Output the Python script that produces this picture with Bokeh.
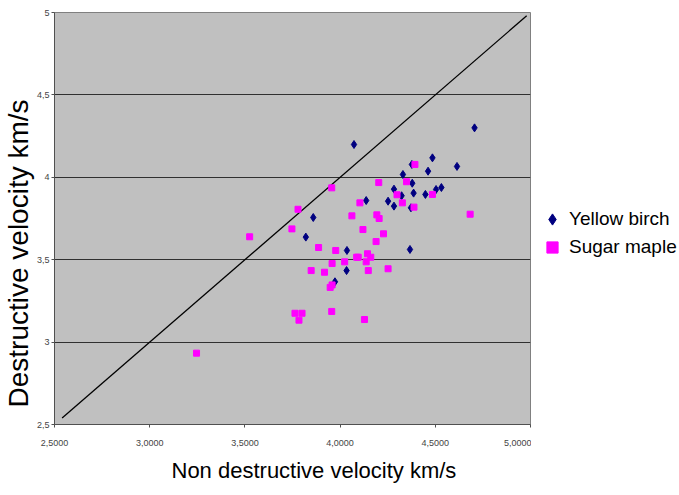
from bokeh.plotting import figure
from bokeh.layouts import row
from bokeh.models import FixedTicker, CustomJSTickFormatter, Legend, LegendItem, Title
from bokeh.embed import file_html
from bokeh.resources import INLINE

# --- data ---
birch_x = [4.073, 4.706, 4.485, 4.377, 4.462, 4.614, 4.330, 4.379, 4.283, 4.386, 4.323, 4.448,
           4.504, 4.532, 4.252, 4.283, 4.372, 4.137, 3.859, 3.820, 4.036, 4.367, 4.034, 3.973]
birch_y = [4.199, 4.300, 4.118, 4.078, 4.037, 4.066, 4.017, 3.964, 3.928, 3.904, 3.888, 3.896,
           3.926, 3.938, 3.855, 3.825, 3.815, 3.859, 3.756, 3.637, 3.556, 3.562, 3.434, 3.366]

maple_x = [4.393, 4.203, 4.349, 3.956, 4.299, 4.485, 4.327, 4.104, 4.388, 3.779, 4.062, 4.193,
           4.205, 4.683, 3.747, 4.120, 4.228, 3.525, 4.189, 3.887, 3.977, 4.087, 4.095, 4.144,
           4.161, 4.024, 3.958, 4.137, 3.848, 3.918, 4.148, 4.252, 3.948, 3.958, 3.763, 3.800,
           3.784, 3.956, 4.128, 3.246]
maple_y = [4.078, 3.968, 3.973, 3.936, 3.894, 3.896, 3.845, 3.845, 3.819, 3.806, 3.766, 3.772,
           3.750, 3.776, 3.687, 3.683, 3.657, 3.639, 3.610, 3.574, 3.556, 3.515, 3.515, 3.536,
           3.515, 3.487, 3.477, 3.487, 3.434, 3.424, 3.434, 3.445, 3.332, 3.347, 3.175, 3.175,
           3.133, 3.186, 3.137, 2.933]

diag_x = [2.54, 4.98]
diag_y = [2.54, 4.98]

x_ticks = [2.5, 3.0, 3.5, 4.0, 4.5, 5.0]
y_ticks = [2.5, 3.0, 3.5, 4.0, 4.5, 5.0]

series_names = ["Yellow birch", "Sugar maple"]
x_title = "Non destructive velocity km/s"
y_title = "Destructive velocity km/s"

FONT = "Liberation Sans"
BIRCH_COLOR = "#000080"
MAPLE_COLOR = "#FF00FF"

p = figure(width=531, height=495, output_backend="svg", toolbar_location=None,
           x_range=(2.5, 5.0), y_range=(2.5, 5.0),
           min_border_left=53, min_border_right=1, min_border_top=12, min_border_bottom=71)
p.background_fill_color = "#C0C0C0"
p.border_fill_color = "white"
p.outline_line_color = "#808080"
p.outline_line_width = 1

p.xgrid.visible = False
p.ygrid.ticker = FixedTicker(ticks=y_ticks)
p.ygrid.grid_line_color = "#303030"
p.ygrid.grid_line_width = 1

for ax, ticks in ((p.xaxis[0], x_ticks), (p.yaxis[0], y_ticks)):
    ax.ticker = FixedTicker(ticks=ticks)
    ax.minor_tick_line_color = None
    ax.major_tick_in = 0
    ax.major_tick_out = 3
    ax.axis_line_color = "#505050"
    ax.major_tick_line_color = "#505050"
    ax.major_label_text_font = FONT
    ax.major_label_text_font_size = "9px"
    ax.major_label_text_color = "#444444"

p.xaxis[0].major_label_standoff = 12
p.yaxis[0].major_label_standoff = 2
p.xaxis[0].formatter = CustomJSTickFormatter(code="return tick.toFixed(4).replace('.', ',');")
p.yaxis[0].formatter = CustomJSTickFormatter(code="return String(tick).replace('.', ',');")

# axis titles as side-panel titles so they can be offset like in the reference
p.add_layout(Title(text=x_title, align="left", offset=117, vertical_align="top", standoff=18,
                   text_font=FONT, text_font_size="22px", text_font_style="normal",
                   text_color="black"), "below")
p.add_layout(Title(text=y_title, align="left", offset=17, vertical_align="bottom", standoff=0,
                   text_font=FONT, text_font_size="28px", text_font_style="normal",
                   text_color="black"), "left")

p.line(diag_x, diag_y, line_color="black", line_width=1.3)

p.scatter(birch_x, birch_y, marker="diamond", size=8,
          fill_color=BIRCH_COLOR, line_color=BIRCH_COLOR)
p.scatter(maple_x, maple_y, marker="square", size=6,
          fill_color=MAPLE_COLOR, line_color=MAPLE_COLOR)

# --- legend panel (separate figure to the right of the plot) ---
q = figure(width=148, height=495, output_backend="svg", toolbar_location=None,
           x_range=(0, 1), y_range=(0, 1), x_axis_type=None, y_axis_type=None,
           min_border_left=0, min_border_right=0, min_border_top=0, min_border_bottom=0)
q.outline_line_color = None
q.grid.visible = False
q.background_fill_color = "white"
q.border_fill_color = "white"
# same series, drawn out of this panel's view; only their legend entries show
lb = q.scatter(birch_x, birch_y, marker="diamond", size=8,
               fill_color=BIRCH_COLOR, line_color=BIRCH_COLOR)
lm = q.scatter(maple_x, maple_y, marker="square", size=6,
               fill_color=MAPLE_COLOR, line_color=MAPLE_COLOR)

legend = Legend(items=[LegendItem(label=series_names[0], renderers=[lb]),
                       LegendItem(label=series_names[1], renderers=[lm])],
                location=(7, 163), orientation="vertical",
                glyph_width=28, glyph_height=28, spacing=0, padding=0, margin=0,
                label_standoff=3, label_text_font=FONT, label_text_font_size="19px",
                label_text_color="black", border_line_color=None,
                background_fill_alpha=0)
q.add_layout(legend)

open("out.html", "w").write(file_html(row(p, q), INLINE))
